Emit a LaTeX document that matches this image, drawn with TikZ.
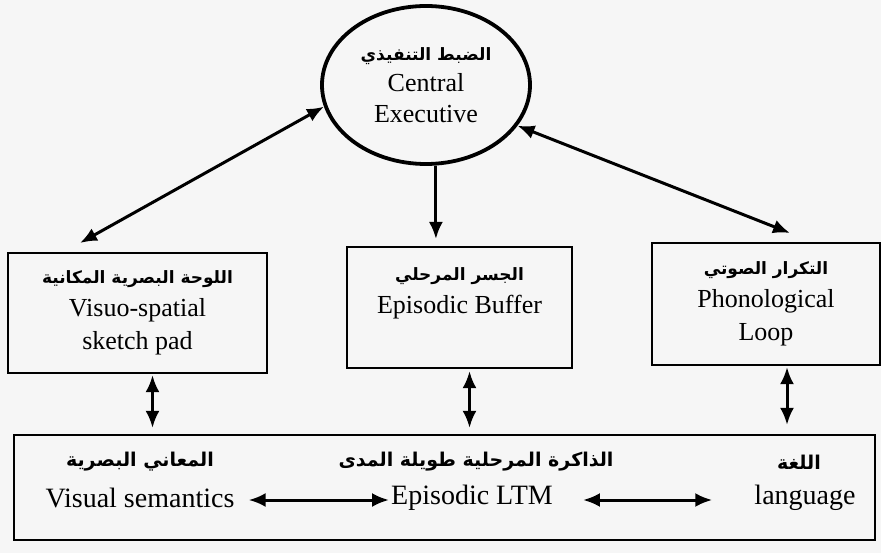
\documentclass[tikz,border=0pt]{standalone}
\usepackage{fontspec}
\setmainfont{Liberation Serif}
\newfontfamily\arabicfont[Script=Arabic]{DejaVu Sans}
\TeXXeTstate=1
\usetikzlibrary{shapes.geometric,arrows.meta,calc}
\newcommand{\ar}[1]{{\arabicfont\bfseries\fontsize{17}{33}\selectfont\beginR #1\endR}}
\newcommand{\arb}[1]{{\arabicfont\bfseries\fontsize{19}{33}\selectfont\beginR #1\endR}}
\begin{document}
\begin{tikzpicture}[x=1pt,y=-1pt,
  box/.style={draw,line width=2.2pt,inner sep=0pt,align=center,
    font=\fontsize{26}{33}\selectfont},
  ell/.style={draw,ellipse,line width=3.8pt,inner sep=0pt,align=center,
    font=\fontsize{26}{31}\selectfont},
  en/.style={inner sep=0pt,font=\fontsize{28}{33}\selectfont},
  arn/.style={inner sep=0pt},
  tip/.style={-{Latex[length=17pt,width=14pt]}},
  dbl/.style={{Latex[length=17pt,width=14pt]}-{Latex[length=17pt,width=14pt]}},
  conn/.style={line width=3pt}]
\useasboundingbox[fill=gray!7] (0,0) rectangle (881,553);
% main components
\node[ell,minimum width=208pt,minimum height=158pt] (ce) at (426,85)
  {\ar{الضبط التنفيذي}\\Central\\Executive};
\node[box,minimum width=259pt,minimum height=120pt] (vs) at (137.5,313)
  {\ar{اللوحة البصرية المكانية}\\Visuo-spatial\\sketch pad};
\node[box,minimum width=225pt,minimum height=121pt] (eb) at (459.5,307.5)
  {\ar{الجسر المرحلي}\\Episodic Buffer\\\mbox{}};
\node[box,minimum width=228pt,minimum height=122pt] (pl) at (766,304)
  {\ar{التكرار الصوتي}\\Phonological\\Loop};
\node[box,minimum width=861pt,minimum height=105pt] (ltm) at (444.5,487.5) {};
% bottom texts
\node[arn] (vsar) at (140,462) {\arb{المعاني البصرية}};
\node[arn] (ltmar) at (476,462) {\arb{الذاكرة المرحلية طويلة المدى}};
\node[arn] (lgar) at (799,462) {\arb{اللغة}};
\node[en] (vsen) at (140,498) {Visual semantics};
\node[en] (ltmen) at (472,498) {Episodic LTM};
\node[en] (lgen) at (805,498) {language};
% connector end points
\coordinate (vstip) at (80,243);
\coordinate (pltip) at (790,233);
\coordinate (ebtop) at (436,239);
% connectors
\draw[conn,dbl] (ce.192) -- (vstip);
\draw[conn,dbl] (ce.336) -- (pltip);
\draw[conn,tip] (ce.277) -- (ce.277 |- ebtop);
\draw[conn,dbl,shorten >=6pt,shorten <=1pt] ([xshift=15pt]vs.south) -- ([xshift=15pt]vs.south |- ltm.north);
\draw[conn,dbl,shorten >=6pt,shorten <=2pt] ([xshift=10pt]eb.south) -- ([xshift=10pt]eb.south |- ltm.north);
\draw[conn,dbl,shorten >=9pt,shorten <=1pt] ([xshift=21pt]pl.south) -- ([xshift=21pt]pl.south |- ltm.north);
\draw[conn,dbl,shorten <=14pt,shorten >=2pt] ([yshift=-2pt]vsen.east) -- ([yshift=-2pt]ltmen.west);
\draw[conn,dbl,shorten <=30pt,shorten >=42pt] ([yshift=-2pt]ltmen.east) -- ([yshift=-2pt]lgen.west);
\end{tikzpicture}
\end{document}
